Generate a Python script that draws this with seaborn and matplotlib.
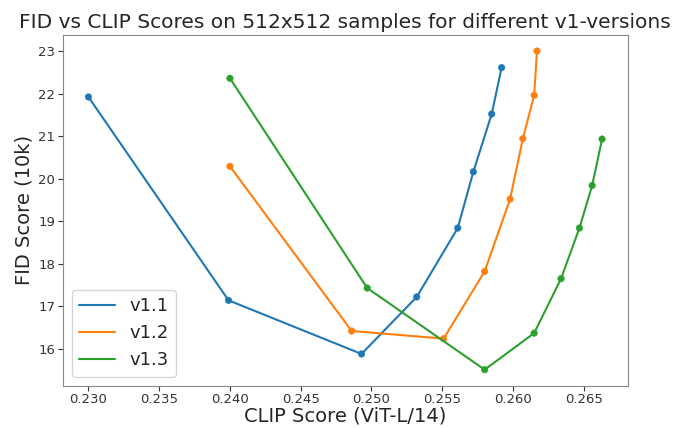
import pandas as pd
import seaborn as sns
import matplotlib.pyplot as plt

# CLIP (ViT-L/14) vs FID (10k) for three v1 checkpoints
clip_v11 = [0.2300, 0.2399, 0.2493, 0.2532, 0.2561, 0.2572, 0.2585, 0.2592]
fid_v11 = [21.92, 17.14, 15.88, 17.22, 18.84, 20.16, 21.52, 22.61]

clip_v12 = [0.2400, 0.2486, 0.2551, 0.2580, 0.2598, 0.2607, 0.2615, 0.2617]
fid_v12 = [20.29, 16.42, 16.24, 17.82, 19.52, 20.94, 21.96, 23.00]

clip_v13 = [0.2400, 0.2497, 0.2580, 0.2615, 0.2634, 0.2647, 0.2656, 0.2663]
fid_v13 = [22.36, 17.43, 15.51, 16.37, 17.65, 18.84, 19.84, 20.93]

versions = ["v1.1", "v1.2", "v1.3"]

frames = []
for name, xs, ys in zip(versions, [clip_v11, clip_v12, clip_v13],
                        [fid_v11, fid_v12, fid_v13]):
    frames.append(pd.DataFrame({"clip": xs, "fid": ys, "version": name}))
df = pd.concat(frames, ignore_index=True)

sns.set_style("ticks")
plt.rcParams["font.family"] = ["DejaVu Sans"]

fig, ax = plt.subplots(figsize=(6.75, 4.28), dpi=100)
pal = sns.color_palette("tab10", 3)

sns.lineplot(data=df, x="clip", y="fid", hue="version", palette=pal,
             sort=False, estimator=None, linewidth=1.5, ax=ax)
sns.scatterplot(data=df, x="clip", y="fid", hue="version", palette=pal,
                s=22, edgecolor=None, legend=False, ax=ax)

ax.set_title("FID vs CLIP Scores on 512x512 samples for different v1-versions",
             fontsize=14.5, pad=5)
ax.set_xlabel("CLIP Score (ViT-L/14)", fontsize=14, labelpad=0)
ax.set_ylabel("FID Score (10k)", fontsize=14, labelpad=3)
ax.tick_params(labelsize=9.5, pad=2, colors="#333333")
ax.set_xticks([0.230, 0.235, 0.240, 0.245, 0.250, 0.255, 0.260, 0.265])
ax.set_xticklabels(["0.230", "0.235", "0.240", "0.245", "0.250", "0.255",
                    "0.260", "0.265"])
for s in ax.spines.values():
    s.set_color("#888888")

ax.legend(loc="lower left", fontsize=13, title=None)

fig.subplots_adjust(left=0.093, right=0.930, top=0.918, bottom=0.099)
fig.savefig("out.png")
